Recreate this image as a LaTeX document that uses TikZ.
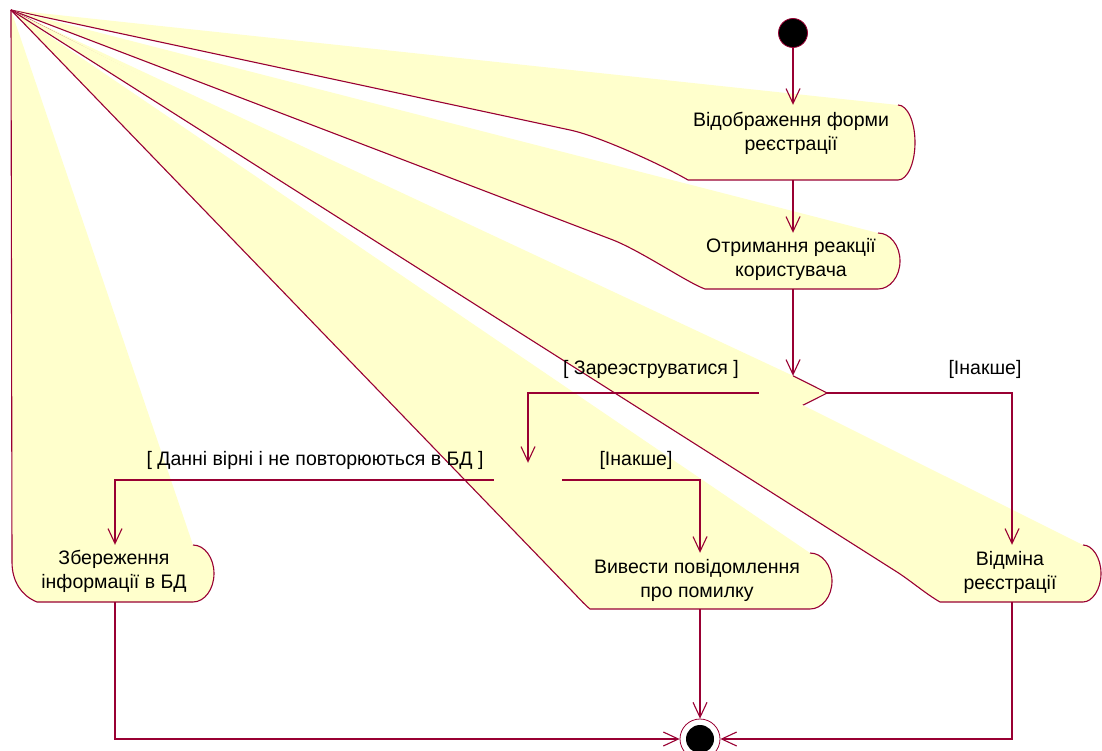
\documentclass[tikz,border=0pt]{standalone}
\usepackage{fontspec}
\setmainfont{Liberation Sans}
\usetikzlibrary{arrows.meta,shapes.geometric}
\definecolor{rr}{RGB}{153,0,51}
\definecolor{yy}{RGB}{255,255,204}
\begin{document}
\begin{tikzpicture}[x=1pt,y=-1pt,
  box/.style={rectangle,draw=none,inner sep=0pt},
  dec/.style={diamond,draw=none,inner sep=0pt,minimum width=68,minimum height=34},
  act/.style={fill=yy,draw=rr,line width=1.1pt,line join=round},
  tr/.style={draw=rr,line width=1.1pt,-{Straight Barb[length=15pt,width=14pt]}},
  tx/.style={font=\fontsize{19.5}{24}\selectfont,align=center,inner sep=0pt},
  lbl/.style={font=\fontsize{19.5}{24}\selectfont,inner sep=0pt,anchor=base}]
\useasboundingbox (0,0) rectangle (1102,751);
\clip (0,0) rectangle (1102,751);
\fill[white] (0,0) rectangle (1102,751);

\coordinate (C) at (11,10);

% anchor boxes
\node[circle,fill=black,draw=rr,line width=0.8pt,minimum size=29,inner sep=0pt] (S) at (793,33) {};
\node[box,minimum width=246,minimum height=75] (A1) at (792,142.5) {};
\node[box,minimum width=217,minimum height=56] (A2) at (791.5,261) {};
\node[dec] (D1) at (793,393) {};
\node[dec] (D2) at (528,480) {};
\node[box,minimum width=202,minimum height=57] (A3) at (115,573.5) {};
\node[box,minimum width=264,minimum height=56] (A4) at (700,581) {};
\node[box,minimum width=176,minimum height=57] (A5) at (1012,573.5) {};

% activity shapes (open outline, fill closed back to the corner)
\filldraw[act] (898,105) .. controls (907.4,105) and (915,121.8) .. (915,142.5)
  .. controls (915,163.2) and (907.4,180) .. (898,180) -- (688,180)
  .. controls (664,166) and (600,136.4) .. (570,130) -- (C);
\filldraw[act] (878,233) .. controls (890.1,233) and (900,245.5) .. (900,261)
  .. controls (900,276.5) and (890.1,289) .. (878,289) -- (705,289)
  .. controls (688,283) and (641,251) .. (613,240) -- (C);
\filldraw[act] (D1.north) -- (D1.east) -- (D1.south) -- (D1.west) -- (C);
\filldraw[act] (D2.north) -- (D2.east) -- (D2.south) -- (D2.west) -- (C);
\filldraw[act] (193,545) .. controls (204.6,545) and (214,557.8) .. (214,573.5)
  .. controls (214,589.2) and (204.6,602) .. (193,602) -- (37,602)
  .. controls (22,596) and (12,582) .. (12,562) -- (C);
\filldraw[act] (810,553) .. controls (822.1,553) and (832,565.5) .. (832,581)
  .. controls (832,596.5) and (822.1,609) .. (810,609) -- (590,609)
  .. controls (584,604) and (578,597.2) .. (572,591) -- (C);
\filldraw[act] (1083,545) .. controls (1092.4,545) and (1101,557.8) .. (1101,573.5)
  .. controls (1101,589.2) and (1092.4,602) .. (1083,602) -- (940,602)
  .. controls (926,594) and (911,581) .. (897,572) -- (C);

% final state
\node[circle,draw=rr,line width=0.8pt,fill=white,minimum size=40,inner sep=0pt] (E) at (700,739) {};
\fill[black] (E.center) circle[radius=14pt];

% activity texts
\node[tx] (A1t) at (791,133.4) {Відображення форми\\реєстрації};
\node[tx] (A2t) at (791,259) {Отримання реакції\\користувача};
\node[tx] (A3t) at (114,571.7) {Збереження\\інформації в БД};
\node[tx] (A4t) at (697,580) {Вивести повідомлення\\про помилку};
\node[tx] (A5t) at (1010,572) {Відміна\\реєстрації};

% transitions
\draw[tr] (S.south) -- (S.south |- A1.north);
\draw[tr] (A1.south -| S) -- (A2.north -| S);
\draw[tr] (A2.south -| D1) -- (D1.north);
\draw[tr] (D1.east) -| (A5.north);
\draw[tr] (D1.west) -| (D2.north);
\draw[tr] (D2.west) -| (A3.north);
\draw[tr] (D2.east) -| (A4.north);
\draw[tr] (A3.south) |- (E.west);
\draw[tr] (A4.south -| E) -- (E.north);
\draw[tr] (A5.south) |- (E.east);

% guards
\node[lbl] (g1) at (651,374) {[ Зареэструватися ]};
\node[lbl] (g2) at (985,374) {[Інакше]};
\node[lbl] (g3) at (315,465) {[ Данні вірні і не повторюються в БД ]};
\node[lbl] (g4) at (636,465) {[Інакше]};
\end{tikzpicture}
\end{document}
